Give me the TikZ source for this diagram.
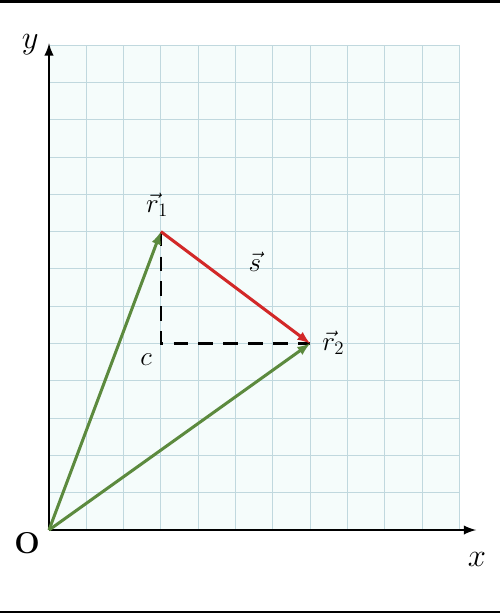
\documentclass[tikz,border=0pt]{standalone}
\usepackage{amsmath}
\usepackage{tikz}
\usepackage{xcolor}
\usetikzlibrary{calc}
\definecolor{gridcol}{RGB}{192,216,222}
\definecolor{paper}{RGB}{245,252,251}
\definecolor{vecgreen}{RGB}{92,138,62}
\definecolor{vecred}{RGB}{210,40,40}

\begin{document}
\begin{tikzpicture}[scale=1,
  axis/.style={line width=2.2pt,-latex},
  vecline/.style={line width=2.3pt,-latex},
  helper/.style={line width=2pt,dash pattern=on 11pt off 8pt},
  lbl/.style={font=\fontsize{22}{26}\selectfont}]
\useasboundingbox (-1.314,-2.225) rectangle (12.09,14.21);
\fill[black] (-1.314,14.13) rectangle (12.09,14.21);
\fill[black] (-1.314,-2.225) rectangle (12.09,-2.17);
\fill[paper] (0,0) rectangle (11,13);
\draw[gridcol,line width=0.7pt] (0,0) grid (11,13);
\foreach \pt/\x/\y in {O/0/0,c/3/5,r1/3/8,r2/7/5}{
 \coordinate (\pt) at (\x,\y);
 }
\draw [axis] (O)--(11.45,0) coordinate (xend);
\draw [axis] (O)--(0,13.05) coordinate (yend);
\node[font=\fontsize{32}{36}\selectfont] (xlab) at (11.47,-0.8) {$x$};
\node[font=\fontsize{32}{36}\selectfont] (ylab) at (-0.5,13.0) {$y$};
\node[font=\fontsize{23}{27}\selectfont\bfseries] (olab) at (-0.59,-0.35) {O};

\draw [helper] (r1)--(c)--(r2);
\draw [vecline,vecgreen] (O)--(r1);
\draw [vecline,vecgreen] (O)--(r2);
\draw [vecline,vecred] (r1)--(r2);

\node[lbl] (r1lab) at (2.9,8.72) {$\vec{r}_1$};
\node[lbl] (slab) at (5.52,7.2) {$\vec{s}$};
\node[lbl] (r2lab) at (7.62,5.03) {$\vec{r}_2$};
\node[lbl] (clab) at (2.6,4.56) {$c$};
\end{tikzpicture}
\end{document}
